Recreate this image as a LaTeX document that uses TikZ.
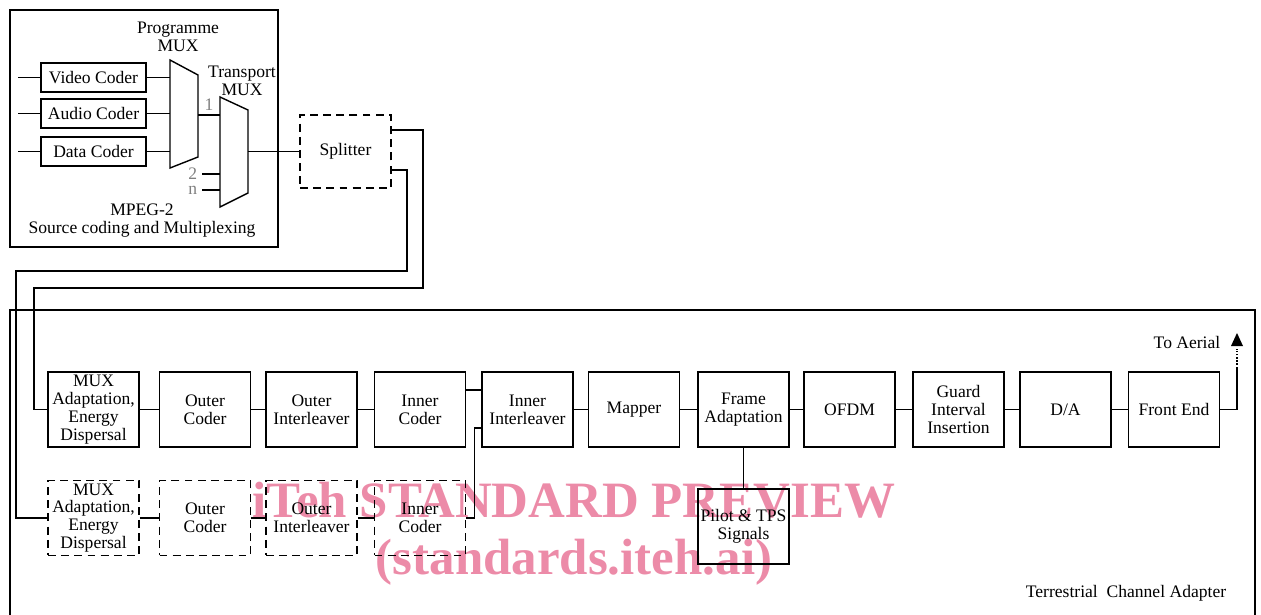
\documentclass[tikz,border=0pt]{standalone}
\usepackage{fontspec}
\setmainfont{Liberation Serif}
\usetikzlibrary{calc}
\definecolor{wmark}{RGB}{236,139,168}
\tikzset{
  blk/.style={draw, line width=1pt, minimum width=1.82cm, minimum height=1.5cm, inner sep=0pt, align=center},
  dblk/.style={blk, dash pattern=on 4.5pt off 3pt},
  coder/.style={draw, line width=1pt, minimum width=2.1cm, minimum height=0.58cm, inner sep=0pt},
  lbl/.style={inner sep=0pt, align=center}
}

\begin{document}
\begin{tikzpicture}[x=0.02cm, y=-0.02cm, thick, font=\fontsize{10}{10.2}\selectfont]
    \useasboundingbox (0,0) rectangle (1261,615);
    % watermark
    \node[lbl, wmark, font=\fontsize{29}{29}\bfseries] (wm1) at (574,500) {iTeh STANDARD PREVIEW};
    \node[lbl, wmark, font=\fontsize{29}{29}\bfseries] (wm2) at (574,562) {(standards.iteh.ai)};
    % MPEG-2 part
    \draw (10,10) rectangle (278,247);
    \node[coder] (vid) at (93.5,77.5) {Video Coder};
    \node[coder] (aud) at (93.5,113.5) {Audio Coder};
    \node[coder] (dat) at (93.5,151.5) {Data Coder};
    \foreach \c in {vid,aud,dat}
	\draw (\c.west) -- ++(-22,0);
    \draw (170,60) -- (198,75) -- (198,157) -- (170,168) -- cycle;
    \draw (220,97) -- (248,110) -- (248,193) -- (220,207) -- cycle;
    \coordinate (pm) at (170,0);
    \coordinate (tmout) at (248,151.5);
    \foreach \c in {vid,aud,dat}
	\draw (\c.east) -- (\c.east -| pm);
    \draw (198,115) -- node[above=-1pt, gray]{1} (220,115);
    \draw (202,174) node[left=-1pt, gray]{2} -- (220,174);
    \draw (202,190) node[left=-1pt, gray]{n} -- (220,190);
    \node[lbl] (pmuxl) at (178,37) {Programme\\MUX};
    \node[lbl] (tmuxl) at (242,81) {Transport\\MUX};
    \node[lbl] (mpeg) at (142,221) {MPEG-2\\Source coding and Multiplexing};
    \node[dblk, minimum height=1.46cm] (spl) at (345.5,151.5) {Splitter};
    \draw (tmout) -- (spl.west);
    % channel adapter
    \draw (10,615) -- (10,310) -- (1255,310) -- (1255,615);
    \node[blk] (mux) at (93.5,409.5) {MUX\\Adaptation,\\Energy\\Dispersal};
    \node[blk] (oc) at (205,409.5) {Outer\\Coder};
    \node[blk] (oi) at (311.5,409.5) {Outer\\Interleaver};
    \node[blk] (ic) at (420,409.5) {Inner\\Coder};
    \node[blk] (ii) at (527.5,409.5) {Inner\\Interleaver};
    \node[blk] (map) at (634,409.5) {Mapper};
    \node[blk] (fa) at (743.5,409.5) {Frame\\Adaptation};
    \node[blk] (ofdm) at (849.5,409.5) {OFDM};
    \node[blk] (gi) at (958.5,409.5) {Guard\\Interval\\Insertion};
    \node[blk] (da) at (1065.5,409.5) {D/A};
    \node[blk] (fe) at (1174,409.5) {Front End};
    \node[blk] (pil) at (743.5,526.5) {Pilot \& TPS\\Signals};
    \node[dblk] (dmux) at (93.5,518) {MUX\\Adaptation,\\Energy\\Dispersal};
    \node[dblk] (doc) at (205,518) {Outer\\Coder};
    \node[dblk] (doi) at (311.5,518) {Outer\\Interleaver};
    \node[dblk] (dic) at (420,518) {Inner\\Coder};
    \draw (mux) -- (oc);
    \draw (oc) -- (oi);
    \draw (oi) -- (ic);
    \draw ($(ic.east)+(0,-19.5)$) -- ($(ii.west)+(0,-19.5)$);
    \draw (ii) -- (map);
    \draw (map) -- (fa);
    \draw (fa) -- (ofdm);
    \draw (ofdm) -- (gi);
    \draw (gi) -- (da);
    \draw (da) -- (fe);
    \draw (fa) -- (pil);
    \draw (dmux) -- (doc);
    \draw (doc) -- (doi);
    \draw (doi) -- (dic);
    \draw (dic.east) -- ++(8,0) |- ($(ii.west)+(0,18.5)$);
    % splitter outputs
    \draw ($(spl.east)+(0,-21.5)$) -| (423,288) -| ($(mux.west)+(-13,0)$) -- (mux.west);
    \draw ($(spl.east)+(0,18.5)$) -| (407,271) -| ($(dmux.west)+(-31,0)$) -- (dmux.west);
    % aerial
    \coordinate (aer) at (1237,368);
    \draw (fe.east) -| (aer);
    \draw[densely dotted] (aer) -- ++(0,-19);
    \fill ($(aer)+(-6,-22)$) -- ++(12,0) -- ($(aer)+(0,-35)$) -- cycle;
    \node[lbl, anchor=east] (aerl) at (1221,342) {To Aerial};
    \node[lbl] (tca) at (1126,593) {Terrestrial~~Channel Adapter};
\end{tikzpicture}
\end{document}
